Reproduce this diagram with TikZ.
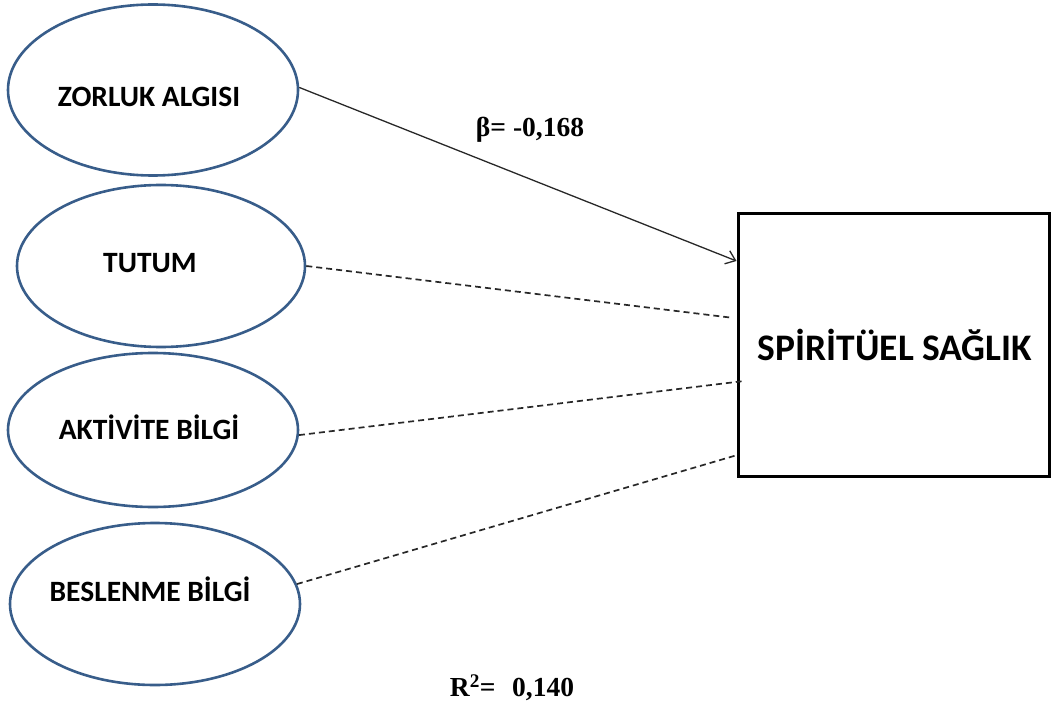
\documentclass[tikz,border=0pt]{standalone}
\usepackage{fontspec}
\setmainfont{Liberation Serif}
\newfontfamily\calibrifont{Carlito}
\usetikzlibrary{shapes.geometric,arrows.meta,calc}
\definecolor{ellblue}{RGB}{56,93,138}
\definecolor{linegray}{RGB}{40,40,40}
\begin{document}
\begin{tikzpicture}[x=1pt,y=-1pt,
  latent/.style={ellipse,draw=ellblue,line width=2.6pt,inner sep=0pt},
  lbl/.style={inner sep=0pt,anchor=center,text height=19pt,text depth=0pt,
    font=\calibrifont\bfseries\fontsize{29.5}{32}\selectfont},
  outcome/.style={rectangle,draw=black,line width=3pt,inner sep=0pt,
    minimum width=311pt,minimum height=262pt},
  stat/.style={inner sep=0pt,anchor=center,text height=0.68em,text depth=0pt,
    font=\bfseries\fontsize{27.5}{30}\selectfont},
  effect/.style={draw=linegray,line width=1.3pt,-{Straight Barb[length=9pt,width=14pt,line width=1.3pt]}},
  nonsig/.style={draw=linegray,line width=1.7pt,dash pattern=on 6pt off 4pt}]
\useasboundingbox (0,0) rectangle (1051,711);

% predictors
\node[latent,minimum width=290pt,minimum height=171pt] (zorluk) at (153,90) {};
\node[latent,minimum width=288pt,minimum height=162pt] (tutum) at (161,266) {};
\node[latent,minimum width=290pt,minimum height=154pt] (aktivite) at (153,430) {};
\node[latent,minimum width=290pt,minimum height=162pt] (beslenme) at (155,604) {};

\node[lbl] (zorlukt) at (149,97) {ZORLUK ALGISI};
\node[lbl] (tutumt) at (150,263) {TUTUM};
\node[lbl] (aktivitet) at (149,430) {AKTİVİTE BİLGİ};
\node[lbl] (beslenmet) at (150,592) {BESLENME BİLGİ};

% outcome
\node[outcome] (saglik) at (893.5,345) {};
\node[inner sep=0pt,text height=24pt,text depth=0pt,
  font=\calibrifont\bfseries\fontsize{37.5}{40}\selectfont] (saglikt) at (895,348) {SPİRİTÜEL SAĞLIK};

% paths
\draw[effect] (zorluk.1.5) -- ($(saglik.north west)!0.183!(saglik.south west)$);
\draw[nonsig] (tutum.east) -- ([xshift=-5pt]$(saglik.north west)!0.397!(saglik.south west)$);
\draw[nonsig] (aktivite.-2.4) -- ([xshift=5pt]$(saglik.north west)!0.637!(saglik.south west)$);
\draw[nonsig] (beslenme.8.4) -- ($(saglik.north west)!0.916!(saglik.south west)$);

% statistics
\node[stat] (beta) at (530,133) {β= -0,168};
\node[stat] (rsq) at (512,693) {R\textsuperscript{2}=\hspace{0.6em}0,140};
\end{tikzpicture}
\end{document}
